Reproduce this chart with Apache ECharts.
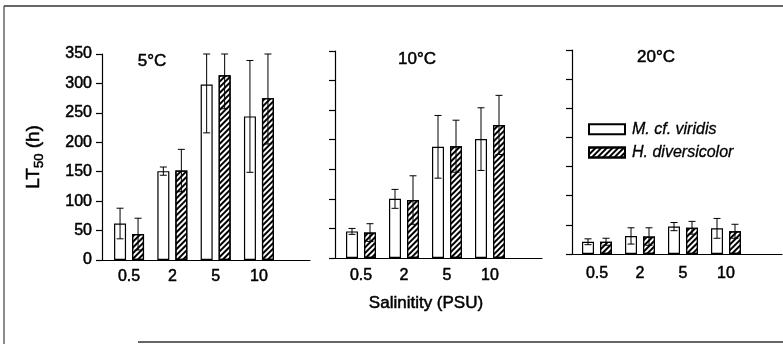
<!DOCTYPE html>
<html>
<head>
<meta charset="utf-8">
<script src="https://cdn.jsdelivr.net/npm/echarts@6/dist/echarts.min.js"></script>
<style>
html,body{margin:0;padding:0;background:#fff;}
#c{width:783px;height:344px;}
</style>
</head>
<body>
<div id="c"></div>
<script>
// ---- data ----
const categories = ['0.5', '2', '5', '10'];
const temperatures = ['5°C', '10°C', '20°C'];
const seriesNames = ['M. cf. viridis', 'H. diversicolor'];
// mean LT50 (h) per temperature panel, per salinity
const viridisMean = [[62, 151, 298, 244], [45, 100, 188, 201], [21, 31, 47, 44]];
const viridisErr  = [[26, 7, 82, 95],     [5, 16, 53, 53],     [5, 14, 7, 17]];
const diversMean  = [[44, 152, 314, 275], [43, 98, 189, 225],  [21, 30, 45, 39]];
const diversErr   = [[27, 36, 57, 78],    [15, 41, 44, 50],    [6, 15, 11, 12]];
const yTicks = { min: 0, max: 350, interval: 50 };

// ---- layout (pixels) ----
const FONT = '"Liberation Sans", Arial, sans-serif';
const TB = { textBorderColor: '#000', textBorderWidth: 0.5 };
const panels = [
  { axLeft: 102, axWidth: 208, dLeft: 107.4, dWidth: 173.2, top: 54, height: 206, lblMargin: 9,  tx: 152, ty: 61 },
  { axLeft: 335, axWidth: 207, dLeft: 339.5, dWidth: 172,   top: 51, height: 207, lblMargin: 10, tx: 417, ty: 59 },
  { axLeft: 572, axWidth: 210, dLeft: 575.5, dWidth: 172,   top: 50, height: 204, lblMargin: 12, tx: 656, ty: 57 }
];
const BAR_W = 12, BAR_GAP = 6;

const grid = [], xAxis = [], yAxis = [], series = [], graphic = [];
const hatch = {
  color: '#000',
  dashArrayX: [1, 0],
  dashArrayY: [1.8, 1.7],
  rotation: -Math.PI / 4
};

panels.forEach((p, i) => {
  const gA = grid.length;
  grid.push({ left: p.axLeft, top: p.top, width: p.axWidth, height: p.height });
  grid.push({ left: p.dLeft, top: p.top, width: p.dWidth, height: p.height });
  const gD = gA + 1;
  // frame axes
  xAxis.push({
    gridIndex: gA, type: 'value', min: 0, max: 1,
    axisLine: { show: true, lineStyle: { color: '#000', width: 1.2 } },
    axisTick: { show: false }, axisLabel: { show: false }, splitLine: { show: false }
  });
  yAxis.push({
    gridIndex: gA, type: 'value', min: yTicks.min, max: yTicks.max, interval: yTicks.interval,
    axisLine: { show: true, lineStyle: { color: '#000', width: 1.2 } },
    axisTick: { show: true, length: 6, lineStyle: { color: '#000', width: 1.2 } },
    axisLabel: Object.assign({ show: i === 0, fontSize: 16, color: '#000', fontFamily: FONT, margin: 10 }, TB),
    splitLine: { show: false },
    name: i === 0 ? '{a|LT}{s|50}{a| (h)}' : '',
    nameLocation: 'middle', nameGap: 56, nameRotate: 90,
    nameTextStyle: {
      fontFamily: FONT, color: '#000',
      rich: {
        a: Object.assign({ fontSize: 19, fontFamily: FONT, color: '#000', lineHeight: 24 }, TB),
        s: Object.assign({ fontSize: 13, fontFamily: FONT, color: '#000', lineHeight: 12, verticalAlign: 'bottom' }, TB)
      }
    }
  });
  // data axes
  xAxis.push({
    gridIndex: gD, type: 'category', data: categories,
    axisLine: { show: false }, axisTick: { show: false },
    axisLabel: Object.assign({ fontSize: 16, color: '#000', fontFamily: FONT, margin: p.lblMargin }, TB)
  });
  yAxis.push({ gridIndex: gD, type: 'value', min: yTicks.min, max: yTicks.max, show: false, splitLine: { show: false } });

  const xi = xAxis.length - 1, yi = yAxis.length - 1;
  series.push({
    name: seriesNames[0], type: 'bar', xAxisIndex: xi, yAxisIndex: yi,
    data: viridisMean[i], barWidth: BAR_W, barGap: (BAR_GAP / BAR_W * 100) + '%',
    itemStyle: { color: '#fff', borderColor: '#000', borderWidth: 1.2 },
    emphasis: { disabled: true }, animation: false
  });
  series.push({
    name: seriesNames[1], type: 'bar', xAxisIndex: xi, yAxisIndex: yi,
    data: diversMean[i], barWidth: BAR_W, barGap: (BAR_GAP / BAR_W * 100) + '%',
    itemStyle: { color: '#fff', borderColor: '#000', borderWidth: 1.2, decal: hatch },
    emphasis: { disabled: true }, animation: false
  });
  [[viridisMean[i], viridisErr[i], -1], [diversMean[i], diversErr[i], 1]].forEach(([m, e, side]) => {
    series.push({
      type: 'custom', xAxisIndex: xi, yAxisIndex: yi, silent: true, animation: false, z: 5,
      data: m.map((v, k) => [k, v, e[k]]),
      renderItem: (params, api) => {
        const k = api.value(0), v = api.value(1), er = api.value(2);
        const hi = Math.min(v + er, yTicks.max), lo = Math.max(v - er, yTicks.min);
        const pHi = api.coord([k, hi]), pLo = api.coord([k, lo]);
        const x = pHi[0] + side * (BAR_W + BAR_GAP) / 2;
        const cap = 3.5;
        const st = { stroke: '#000', lineWidth: 1, fill: null };
        return { type: 'group', children: [
          { type: 'line', shape: { x1: x, y1: pHi[1], x2: x, y2: pLo[1] }, style: st },
          { type: 'line', shape: { x1: x - cap, y1: pHi[1], x2: x + cap, y2: pHi[1] }, style: st },
          { type: 'line', shape: { x1: x - cap, y1: pLo[1], x2: x + cap, y2: pLo[1] }, style: st }
        ] };
      }
    });
  });
  graphic.push({
    type: 'text', x: p.tx, y: p.ty,
    style: { text: temperatures[i], fontSize: 17, fontFamily: FONT, fill: '#000', align: 'center', verticalAlign: 'middle', stroke: '#000', lineWidth: 0.5 }
  });
});

graphic.push({
  type: 'text', x: 426, y: 303,
  style: { text: 'Salinitity (PSU)', fontSize: 17, fontFamily: FONT, fill: '#000', align: 'center', verticalAlign: 'middle', stroke: '#000', lineWidth: 0.5 }
});
// outer frame
graphic.push({ type: 'line', shape: { x1: 4, y1: 6, x2: 4, y2: 344 }, style: { stroke: '#666', lineWidth: 1.5 } });
graphic.push({ type: 'line', shape: { x1: 4, y1: 6, x2: 783, y2: 6 }, style: { stroke: '#333', lineWidth: 1.5 } });
graphic.push({ type: 'line', shape: { x1: 138, y1: 342, x2: 783, y2: 342 }, style: { stroke: '#333', lineWidth: 1.5 } });

const chart = echarts.init(document.getElementById('c'), null, { renderer: 'canvas' });
chart.setOption({
  backgroundColor: '#fff',
  animation: false,
  aria: { enabled: false },
  textStyle: { fontFamily: FONT },
  grid, xAxis, yAxis, series, graphic,
  legend: {
    data: seriesNames, orient: 'vertical', left: 583, top: 116,
    itemWidth: 36, itemHeight: 10, itemGap: 7, icon: 'rect',
    textStyle: { fontSize: 16, fontStyle: 'italic', color: '#000', fontFamily: FONT, padding: [0, 0, 0, 2], textBorderColor: '#000', textBorderWidth: 0.3 },
    selectedMode: false
  }
});
</script>
</body>
</html>
